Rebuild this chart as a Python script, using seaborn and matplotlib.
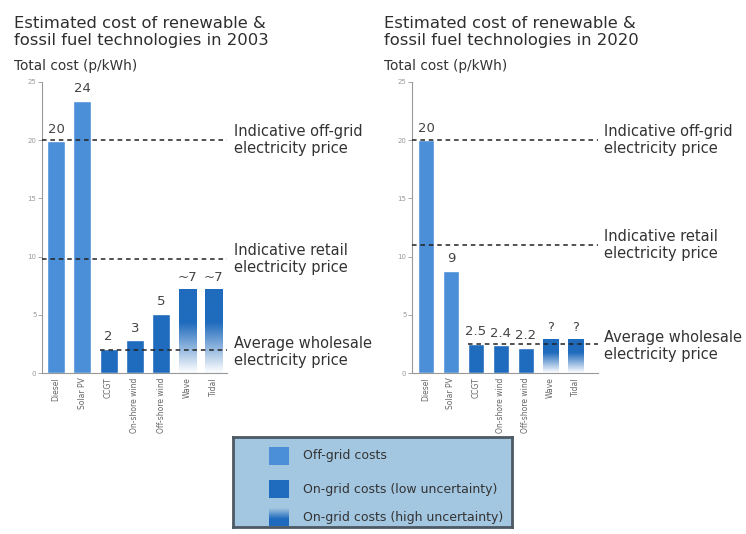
import numpy as np
import matplotlib.pyplot as plt
import matplotlib.colors as mcolors
from matplotlib.patches import Rectangle
import seaborn as sns

# data
techs = ["Diesel", "Solar PV", "CCGT", "On-shore wind", "Off-shore wind", "Wave", "Tidal"]
kind = ["off", "off", "low", "low", "low", "high", "high"]
cost_2003 = [19.9, 23.4, 2.1, 2.8, 5.1, 7.2, 7.2]
labels_2003 = ["20", "24", "2", "3", "5", "~7", "~7"]
cost_2020 = [20.0, 8.8, 2.5, 2.4, 2.15, 2.9, 2.9]
labels_2020 = ["20", "9", "2.5", "2.4", "2.2", "?", "?"]
price_2003 = {"offgrid": 20.0, "retail": 9.8, "wholesale": 2.0}
price_2020 = {"offgrid": 20.0, "retail": 11.0, "wholesale": 2.5}
legend_labels = ["Off-grid costs", "On-grid costs (low uncertainty)", "On-grid costs (high uncertainty)"]

OFF = "#4a8fd8"
LOW = "#1f6bbd"
TXT = "#444444"
AXC = "#999999"
kind_color = {"off": OFF, "low": LOW, "high": LOW}

sns.set_theme(style="white")
plt.rcParams['font.family'] = ['DejaVu Sans']

fig = plt.figure(figsize=(7.46, 5.34), dpi=100)
fig.patch.set_facecolor("white")


def fade_img(color):
    n = 200
    t = np.linspace(0, 1, n)
    alpha = np.clip(t / 0.6, 0.03, 1.0)
    img = np.zeros((n, 1, 4))
    img[..., :3] = mcolors.to_rgb(color)
    img[:, 0, 3] = alpha
    return img


def panel(rect, xlim, width, vals, labs, prices, title, title_x, text_shift):
    ax = fig.add_axes(rect)
    sns.barplot(x=techs, y=vals, hue=techs, palette=[kind_color[k] for k in kind],
                legend=False, width=width, saturation=1, ax=ax, zorder=2)
    patches = sorted(ax.patches, key=lambda p: p.get_x())
    for p, k, lab in zip(patches, kind, labs):
        if k == "high":
            p.set_facecolor("none")
            x0, w, h = p.get_x(), p.get_width(), p.get_height()
            im = ax.imshow(fade_img(LOW), extent=[x0, x0 + w, 0, h], origin="lower",
                           aspect="auto", interpolation="bilinear", zorder=2)
            im.set_clip_path(p)
        ax.annotate(lab, (p.get_x() + p.get_width() / 2, p.get_height()),
                    xytext=(0, 4), textcoords="offset points", ha="center", va="bottom",
                    fontsize=9.5, color=TXT)
    ax.set_xlim(*xlim)
    ax.set_ylim(0, 25)
    ax.set_aspect("auto")
    ax.set_yticks([0, 5, 10, 15, 20, 25])
    ax.tick_params(axis="y", labelsize=5, colors=AXC, length=3, width=0.6, pad=1, left=True)
    ax.tick_params(axis="x", labelsize=5.5, colors="#777777", length=0, pad=3, rotation=90)
    for lab in ax.get_xticklabels():
        lab.set_color("#666666")
    sns.despine(ax=ax)
    for s in ["left", "bottom"]:
        ax.spines[s].set_color(AXC)
        ax.spines[s].set_linewidth(0.8)
    ax.set_xlabel("")
    ax.set_ylabel("")

    ccgt = patches[2]
    dash = (0, (3, 2.5))
    ax.hlines(prices["offgrid"], xlim[0], xlim[1], colors="#222222", linestyles=dash, lw=1.1, zorder=4)
    ax.hlines(prices["retail"], xlim[0], xlim[1], colors="#222222", linestyles=dash, lw=1.1, zorder=4)
    ax.hlines(prices["wholesale"], ccgt.get_x(), xlim[1], colors="#222222", linestyles=dash, lw=1.1, zorder=4)

    tx = 1.0 + text_shift
    kw = dict(transform=ax.get_yaxis_transform(), ha="left", va="center", fontsize=10.5,
              color="#333333", linespacing=1.2, clip_on=False)
    ax.text(tx, prices["offgrid"], "Indicative off-grid\nelectricity price", **kw)
    ax.text(tx, prices["retail"], "Indicative retail\nelectricity price", **kw)
    ax.text(tx, prices["wholesale"] - 0.2, "Average wholesale\nelectricity price", **kw)

    fig.text(title_x / 746, 1 - 32 / 534, title, ha="left", va="center", fontsize=11.8,
             color="#2e2e2e", linespacing=1.25)
    fig.text(title_x / 746, 1 - 66 / 534, "Total cost (p/kWh)", ha="left", va="center",
             fontsize=9.8, color="#333333")
    return ax


panel([42 / 746, 1 - 373 / 534, 185 / 746, 291 / 534], (-0.53, 6.5), 0.68, cost_2003, labels_2003,
      price_2003, "Estimated cost of renewable &\nfossil fuel technologies in 2003", 14, 0.04)
panel([412 / 746, 1 - 373 / 534, 186 / 746, 291 / 534], (-0.56, 6.9), 0.64, cost_2020, labels_2020,
      price_2020, "Estimated cost of renewable &\nfossil fuel technologies in 2020", 384, 0.03)

# legend box
lax = fig.add_axes([233 / 746, 1 - 527 / 534, 279 / 746, 90 / 534])
lax.set_facecolor("#a3c6e1")
lax.set_xticks([])
lax.set_yticks([])
for s in lax.spines.values():
    s.set_color("#4d5964")
    s.set_linewidth(2)
rows = [19, 52, 80]
for lab, yc, k in zip(legend_labels, rows, ["off", "low", "high"]):
    if k == "high":
        lax.imshow(fade_img(LOW)[::-1], extent=[36, 56, yc - 9, yc + 9], origin="upper",
                   aspect="auto", interpolation="bilinear")
    else:
        lax.add_patch(Rectangle((36, yc - 9), 20, 18, facecolor=kind_color[k], edgecolor="none"))
    lax.text(70, yc, lab, ha="left", va="center", fontsize=9, color="#333333")
lax.set_xlim(0, 279)
lax.set_ylim(90, 0)

fig.savefig("out.png", dpi=100, facecolor="white")
